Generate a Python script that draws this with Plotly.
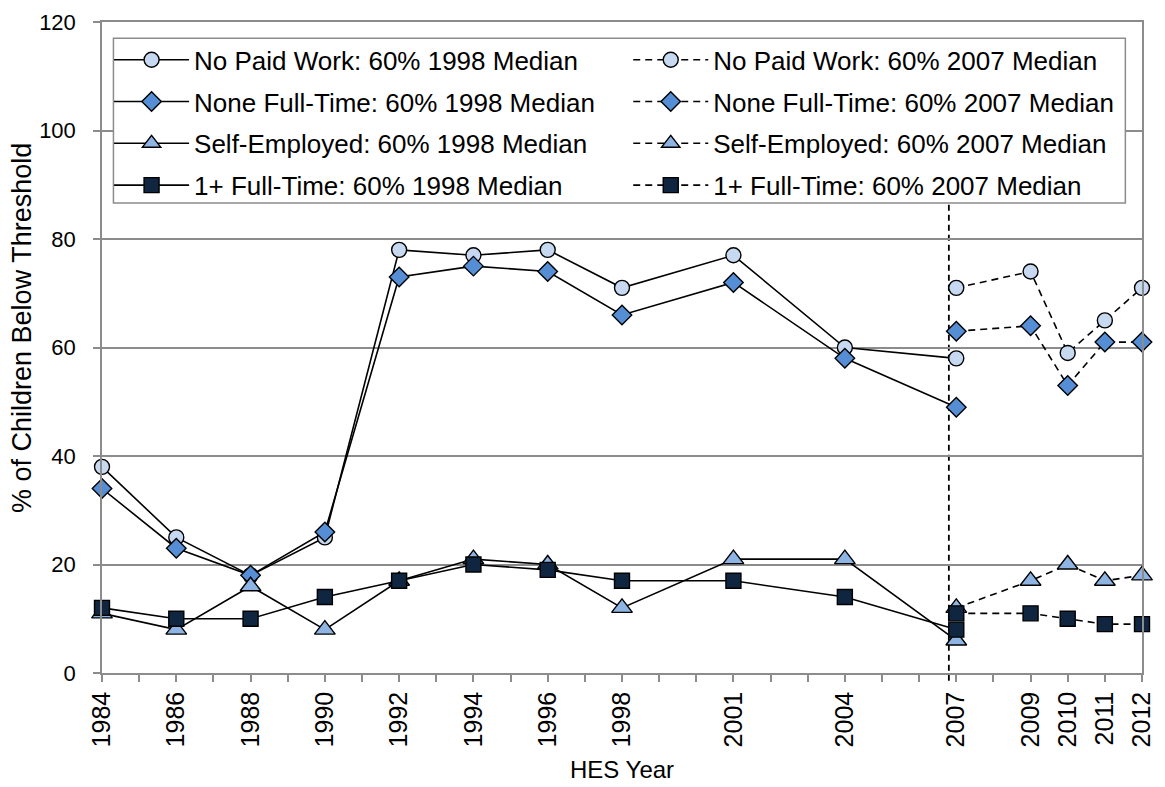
import plotly.graph_objects as go

# ---- data ----
years_1998 = [1984, 1986, 1988, 1990, 1992, 1994, 1996, 1998, 2001, 2004, 2007]
npw_1998 = [38, 25, 18, 25, 78, 77, 78, 71, 77, 60, 58]
nft_1998 = [34, 23, 18, 26, 73, 75, 74, 66, 72, 58, 49]
se_1998 = [11, 8, 16, 8, 17, 21, 20, 12, 21, 21, 6]
ft_1998 = [12, 10, 10, 14, 17, 20, 19, 17, 17, 14, 8]

years_2007 = [2007, 2009, 2010, 2011, 2012]
npw_2007 = [71, 74, 59, 65, 71]
nft_2007 = [63, 64, 53, 61, 61]
se_2007 = [12, 17, 20, 17, 18]
ft_2007 = [11, 11, 10, 9, 9]

label_years = [1984, 1986, 1988, 1990, 1992, 1994, 1996, 1998, 2001, 2004, 2007, 2009, 2010, 2011, 2012]
break_year = 2006.8
x_title = "HES Year"
y_title = "% of Children Below Threshold"

series = [
    ("No Paid Work: 60% 1998 Median", years_1998, npw_1998, "circle", 15, "#C6D9F1", "solid", "legend"),
    ("None Full-Time: 60% 1998 Median", years_1998, nft_1998, "diamond", 15, "#558ED5", "solid", "legend"),
    ("Self-Employed: 60% 1998 Median", years_1998, se_1998, "triangle-up", 18, "#8EB4E3", "solid", "legend"),
    ("1+ Full-Time: 60% 1998 Median", years_1998, ft_1998, "square", 15, "#10253F", "solid", "legend"),
    ("No Paid Work: 60% 2007 Median", years_2007, npw_2007, "circle", 15, "#C6D9F1", "7px,5px", "legend2"),
    ("None Full-Time: 60% 2007 Median", years_2007, nft_2007, "diamond", 15, "#558ED5", "7px,5px", "legend2"),
    ("Self-Employed: 60% 2007 Median", years_2007, se_2007, "triangle-up", 18, "#8EB4E3", "7px,5px", "legend2"),
    ("1+ Full-Time: 60% 2007 Median", years_2007, ft_2007, "square", 15, "#10253F", "7px,5px", "legend2"),
]

FONT = "Liberation Sans, Arial, sans-serif"
GRID = "#8C8C8C"
LEG_FS = 26

fig = go.Figure()
for i, (name, xs, ys, sym, sz, col, dash, leg) in enumerate(series):
    fig.add_trace(go.Scatter(
        x=xs, y=ys, name=name, mode="lines+markers",
        line=dict(color="black", width=1.6, dash=dash),
        marker=dict(symbol=sym, size=sz, color=col, line=dict(color="black", width=1.4)),
        cliponaxis=False, legend=leg, legendgroup=name,
    ))

all_years = list(range(1984, 2013))
ticktext = [str(y) if y in label_years else "" for y in all_years]

# page has an 8px body margin; figure is sized/margined to compensate
fig.update_layout(
    width=1157, height=779,
    margin=dict(l=94, r=23, t=14, b=114),
    paper_bgcolor="white", plot_bgcolor="white",
    font=dict(family=FONT, size=22, color="black"),
    showlegend=True,
    legend=dict(x=0.0068, y=0.978, xanchor="left", yanchor="top",
                bgcolor="rgba(0,0,0,0)", borderwidth=0,
                font=dict(family=FONT, size=LEG_FS, color="black"),
                tracegroupgap=5, traceorder="grouped", itemwidth=75),
    legend2=dict(x=0.506, y=0.978, xanchor="left", yanchor="top",
                 bgcolor="rgba(0,0,0,0)", borderwidth=0,
                 font=dict(family=FONT, size=LEG_FS, color="black"),
                 tracegroupgap=5, traceorder="grouped", itemwidth=75),
    xaxis=dict(
        automargin=False,
        range=[1984, 2012], tickmode="array", tickvals=all_years, ticktext=ticktext,
        tickangle=-90, ticks="outside", ticklen=7, tickcolor=GRID, tickwidth=1.5,
        showline=True, linecolor=GRID, linewidth=1.5, mirror=True,
        showgrid=False, zeroline=False,
        tickfont=dict(family=FONT, size=25, color="black"),
    ),
    yaxis=dict(
        automargin=False,
        range=[0, 120], dtick=20, ticks="outside", ticklen=7, tickcolor=GRID, tickwidth=1.5,
        showline=True, linecolor=GRID, linewidth=1.5, mirror=True,
        showgrid=True, gridcolor=GRID, gridwidth=1.5, zeroline=False,
        tickfont=dict(family=FONT, size=22, color="black"),
        ticklabelstandoff=13,
    ),
    annotations=[
        dict(text=x_title, xref="paper", yref="paper", x=0.5, y=-0.149,
             xanchor="center", yanchor="middle", showarrow=False, borderpad=0,
             font=dict(family=FONT, size=24, color="black")),
        dict(text=y_title, xref="paper", yref="paper", x=-0.0769, y=0.53,
             xanchor="center", yanchor="middle", textangle=-90, showarrow=False, borderpad=0,
             font=dict(family=FONT, size=27, color="black")),
    ],
    shapes=[
        dict(type="line", xref="x", yref="paper", x0=break_year, x1=break_year, y0=-0.012, y1=0.722,
             line=dict(color="black", width=1.8, dash="6px,4px"), layer="below"),
        dict(type="rect", xref="paper", yref="paper", x0=0.011, x1=0.984, y0=0.722, y1=0.975,
             fillcolor="white", line=dict(color=GRID, width=1.5), layer="above"),
    ],
)

fig.write_html("out.html")
